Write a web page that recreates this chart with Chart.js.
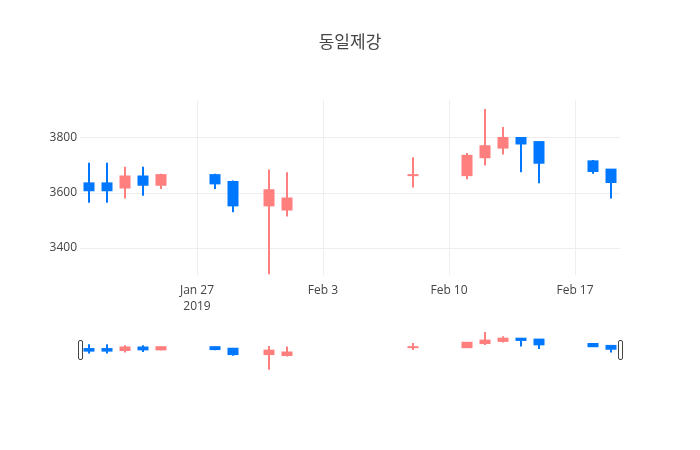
<!DOCTYPE html>
<html>
<head>
<meta charset="utf-8">
<script src="https://cdn.jsdelivr.net/npm/chart.js@4/dist/chart.umd.min.js"></script>
<style>
  html, body { margin: 0; padding: 0; background: #fff; }
  #wrap { position: relative; width: 700px; height: 450px; }
  #main { position: absolute; left: 0; top: 0; }
  #slider { position: absolute; left: 0; top: 330px; }
  .grab { position: absolute; top: 340px; width: 5px; height: 20px; box-sizing: border-box;
          border: 1px solid #444; border-radius: 2px; background: #fff; }
</style>
</head>
<body>
<div id="wrap">
  <canvas id="main" width="700" height="450"></canvas>
  <canvas id="slider" width="700" height="40"></canvas>
  <div class="grab" style="left:77.5px"></div>
  <div class="grab" style="left:617.5px"></div>
</div>
<script>
// ---- data ----
const title = '동일제강';
const dates = ['2019-01-21','2019-01-22','2019-01-23','2019-01-24','2019-01-25',
               '2019-01-28','2019-01-29','2019-01-31','2019-02-01','2019-02-08',
               '2019-02-11','2019-02-12','2019-02-13','2019-02-14','2019-02-15',
               '2019-02-18','2019-02-19'];
const openV  = [3635,3635,3620,3660,3630, 3665,3640,3555,3540,3665, 3665,3730,3765,3800,3785, 3715,3685];
const highV  = [3710,3710,3695,3695,3670, 3670,3645,3685,3675,3730, 3745,3905,3840,3800,3785, 3720,3685];
const lowV   = [3565,3565,3580,3590,3615, 3615,3530,3305,3515,3620, 3650,3700,3740,3675,3635, 3670,3580];
const closeV = [3610,3610,3660,3630,3665, 3635,3555,3610,3580,3665, 3735,3770,3800,3780,3710, 3680,3640];
const xTickDates = ['2019-01-27','2019-02-03','2019-02-10','2019-02-17'];
const yTicks = [3400, 3600, 3800];
const xRangeDates = ['2019-01-20T12:00:00Z','2019-02-19T12:00:00Z'];
const yRange = [3302, 3938];

const upColor = '#ff7f7f';
const downColor = '#0077ff';
const DAY = 86400000;
const toDay = s => Date.parse(s.length === 10 ? s + 'T00:00:00Z' : s) / DAY;
const months = ['Jan','Feb','Mar','Apr','May','Jun','Jul','Aug','Sep','Oct','Nov','Dec'];

const colors = dates.map((d, i) => closeV[i] >= openV[i] ? upColor : downColor);
const wickData = dates.map((d, i) => ({ x: toDay(d), y: [lowV[i], highV[i]] }));
const bodyData = dates.map((d, i) => ({ x: toDay(d), y: [openV[i], closeV[i]] }));

Chart.defaults.font.family = "'Open Sans', 'Noto Sans CJK KR', 'Noto Sans', sans-serif";
Chart.defaults.color = '#444';

function makeDatasets() {
  return [
    { label: 'wick', data: wickData, backgroundColor: colors, barThickness: 2,
      grouped: false, inflateAmount: 0, borderWidth: 0 },
    { label: 'body', data: bodyData, backgroundColor: colors, barThickness: 9,
      grouped: false, inflateAmount: 1, borderWidth: 0 }
  ];
}

const xMin = toDay(xRangeDates[0]);
const xMax = toDay(xRangeDates[1]);

new Chart(document.getElementById('main'), {
  type: 'bar',
  data: { datasets: makeDatasets() },
  options: {
    responsive: false,
    animation: false,
    devicePixelRatio: 1,
    layout: { padding: { left: 0, right: 0, top: 0, bottom: 0 } },
    plugins: {
      legend: { display: false },
      tooltip: { enabled: false },
      title: {
        display: true, text: title, color: '#444',
        font: { size: 17, weight: 'normal', lineHeight: 1.2 },
        padding: { top: 33, bottom: 46.6 }
      }
    },
    scales: {
      x: {
        type: 'linear', min: xMin, max: xMax, offset: false,
        afterBuildTicks: s => { s.ticks = xTickDates.map(d => ({ value: toDay(d) })); },
        afterFit: s => { s.height = 175; },
        grid: { color: '#eeeeee', lineWidth: 1, drawTicks: false, offset: false },
        border: { display: false },
        ticks: {
          padding: 8, maxRotation: 0, autoSkip: false,
          font: { size: 12, lineHeight: 1.33 }, color: '#444',
          callback: (v, i) => {
            const d = new Date(v * DAY);
            const lab = months[d.getUTCMonth()] + ' ' + d.getUTCDate();
            return i === 0 ? [lab, String(d.getUTCFullYear())] : lab;
          }
        }
      },
      y: {
        type: 'linear', min: yRange[0], max: yRange[1],
        afterBuildTicks: s => { s.ticks = yTicks.map(v => ({ value: v })); },
        afterFit: s => { s.width = 80; },
        grid: { color: '#eeeeee', lineWidth: 1, drawTicks: false },
        border: { display: false },
        ticks: { padding: 3, font: { size: 12 }, color: '#444', callback: v => String(v) }
      },
      yRight: {
        type: 'linear', position: 'right', min: yRange[0], max: yRange[1],
        afterFit: s => { s.width = 80; },
        grid: { display: false, drawTicks: false },
        border: { display: false },
        ticks: { display: false }
      }
    }
  }
});

new Chart(document.getElementById('slider'), {
  type: 'bar',
  data: { datasets: makeDatasets() },
  options: {
    responsive: false,
    animation: false,
    devicePixelRatio: 1,
    layout: { padding: { left: 80, right: 80, top: 0, bottom: 0 } },
    plugins: { legend: { display: false }, tooltip: { enabled: false }, title: { display: false } },
    scales: {
      x: { type: 'linear', min: xMin, max: xMax, offset: false, display: false },
      y: { type: 'linear', min: yRange[0], max: yRange[1], display: false }
    }
  }
});
</script>
</body>
</html>
